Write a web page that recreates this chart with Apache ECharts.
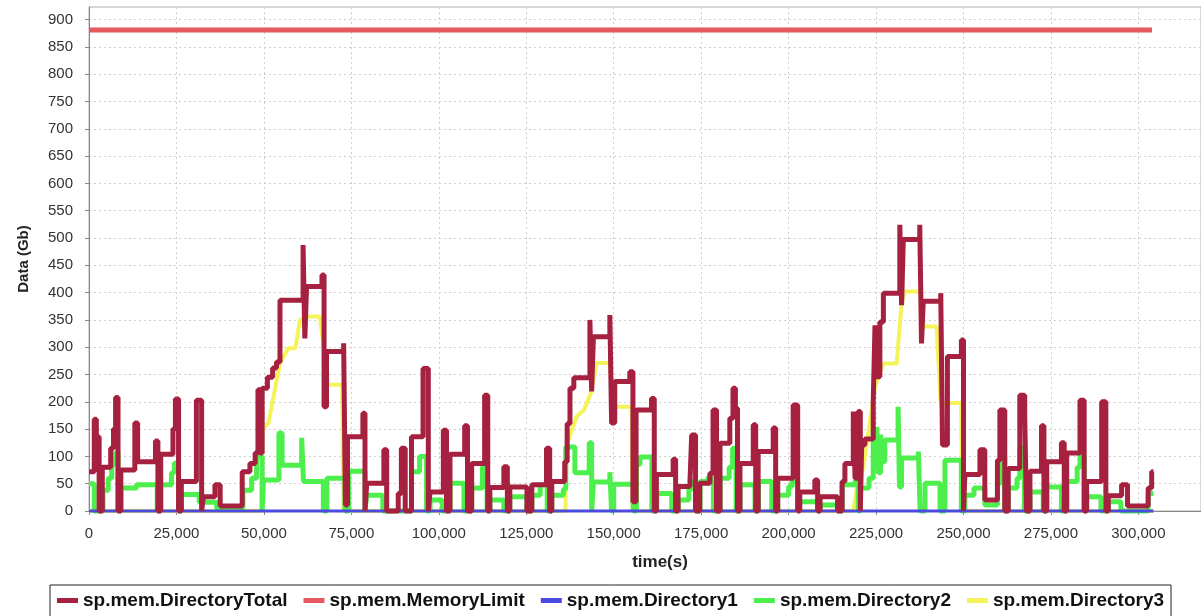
<!DOCTYPE html>
<html><head><meta charset="utf-8">
<script src="https://cdn.jsdelivr.net/npm/echarts@6/dist/echarts.min.js"></script>
<style>html,body{margin:0;padding:0;background:#fff}#c{width:1201px;height:616px}</style>
</head><body><div id="c"></div>
<script>
const seriesNames = ['sp.mem.DirectoryTotal','sp.mem.MemoryLimit','sp.mem.Directory1','sp.mem.Directory2','sp.mem.Directory3'];
const xTicks = [0,25000,50000,75000,100000,125000,150000,175000,200000,225000,250000,275000,300000];
const yTicks = [0,50,100,150,200,250,300,350,400,450,500,550,600,650,700,750,800,850,900];

// [time(s), Gb] — value holds until the next point (step)
const directoryTotal = [
 [0,72],[1500,168],[2100,136],[2900,0],[3800,80],[6200,115],[7000,150],[7600,208],[8300,0],[9100,75],
 [13100,161],[13900,90],[19000,128],[19700,0],[20500,104],[24000,150],[24700,205],[25600,0],[26400,54],
 [30700,203],[32200,0],[32700,26],[36000,48],[37500,9],[43800,72],[46000,87],[47500,106],[48300,222],
 [48900,106],[49500,225],[51000,245],[52500,262],[53600,273],[54600,386],[61200,487],[61700,316],[62200,411],
 [66600,432],[67200,191],[67900,292],[72800,307],[73300,11],[73900,136],[78300,179],[78900,0],[79400,51],
 [84300,112],[85100,0],[88400,32],[89300,115],[90400,0],[92200,136],[95500,261],[97000,0],[97500,35],
 [101300,148],[102200,0],[103200,104],[107400,156],[108200,0],[109400,87],[113100,212],[114000,0],[114600,43],
 [118600,81],[119600,0],[120300,44],[125200,0],[126600,48],[130800,115],[131700,0],[132300,54],[136000,90],
 [136700,160],[137500,225],[138600,244],[143200,350],[143700,219],[144200,319],[148900,359],[149400,161],
 [150300,237],[154600,255],[155500,17],[156400,185],[160800,206],[161600,0],[162200,67],[167000,95],[167700,0],
 [168400,45],[171800,54],[172300,139],[173400,0],[174600,51],[177500,69],[178400,185],[179400,0],[180400,124],
 [183200,170],[184100,225],[184800,188],[185400,0],[186100,87],[189900,158],[190600,0],[191300,109],[195600,152],
 [196300,0],[196900,60],[201300,194],[202600,0],[203200,35],[207500,57],[208300,0],[209000,26],[214000,0],
 [215300,54],[216100,87],[218500,182],[219000,60],[219900,182],[220500,0],[220900,121],[221800,132],[224200,200],
 [224700,340],[225200,246],[226100,346],[227100,399],[231800,524],[232300,377],[232800,497],[237500,524],
 [238000,307],[238500,384],[243500,399],[244000,121],[245400,283],[249400,313],[250000,0],[250400,67],
 [254700,112],[256100,20],[259700,93],[260400,185],[261800,0],[262800,78],[266100,212],[267500,176],[268000,0],
 [269000,73],[272300,156],[273000,0],[273800,90],[278000,125],[278800,0],[279500,106],[283300,203],[284500,0],
 [285200,54],[289500,200],[290700,0],[291400,28],[295200,48],[296900,9],[302800,42],[303800,72],[304300,72]
];
const memoryLimit = [[0,881],[303900,881]];
const directory1 = [[0,0],[304300,0]];
const directory2 = [
 [0,50],[1500,0],[4000,38],[5500,60],[6500,85],[7400,106],[8300,0],[9100,42],[13600,48],[19500,0],[20500,48],
 [23600,70],[24400,88],[25600,0],[26400,30],[31500,16],[36500,5],[44000,38],[46500,60],[47900,100],[49500,0],
 [49900,57],[54300,143],[55200,84],[60800,134],[61300,54],[67000,0],[68000,60],[73200,0],[74200,73],[78900,0],
 [79400,29],[84000,0],[92200,72],[94500,100],[96500,0],[97500,20],[101000,0],[103200,51],[107200,0],[109400,42],
 [112500,81],[113800,0],[114600,20],[118600,0],[120300,26],[125200,0],[126600,29],[129000,48],[131000,0],
 [132300,29],[135600,40],[136300,117],[138900,70],[143000,125],[143700,0],[144200,53],[148900,71],[149400,0],
 [150000,49],[155600,0],[156500,85],[157500,99],[160900,0],[162300,32],[166600,0],[168500,20],[171500,40],
 [172300,54],[173400,0],[174700,54],[177000,62],[178500,0],[180400,60],[183000,80],[184000,115],[185000,0],
 [186100,48],[190400,0],[191400,54],[195200,0],[196900,29],[200000,45],[201000,54],[202600,0],[202800,17],
 [208300,0],[209000,11],[214000,0],[215300,48],[219000,55],[219900,0],[220500,42],[223000,60],[224200,150],
 [224600,80],[225200,154],[225700,70],[226300,140],[226800,90],[227500,130],[231300,191],[231700,44],[232300,97],
 [237100,109],[237600,0],[239000,51],[243300,0],[244700,93],[249400,0],[250400,29],[253000,42],[255200,40],
 [256100,11],[259700,50],[260500,100],[261800,0],[262800,42],[265300,60],[266100,115],[267400,0],[269000,35],
 [272800,0],[273800,44],[278000,0],[279500,54],[282500,80],[283300,102],[284500,0],[285200,26],[289300,0],
 [291400,17],[295000,0],[302800,32],[304300,32]
];
const directory3 = [
 [0,0],[49300,0],[49600,150],[51300,161],[54600,271],[57000,298],[59000,298],[60300,350],[62700,356],[66000,356],
 [68400,231],[72400,231],[72700,0],[136200,0],[136500,120],[139400,173],[141500,185],[143500,216],[145100,271],
 [148900,271],[150200,191],[155200,191],[155400,0],[218500,0],[219500,40],[221400,81],[224700,228],[227100,270],
 [230900,270],[232300,380],[233300,402],[237600,402],[238500,338],[242300,338],[243500,198],[249300,198],
 [249600,0],[304300,0]
];

const colors = ['#a6213f','#e65a5f','#4a4ae0','#4def4d','#f4f45a'];
const chart = echarts.init(document.getElementById('c'), null, {renderer:'canvas'});
const fmt = v => Number(v).toLocaleString('en-US');
const lineSeries = (name, data, color, width, z, step) => ({
  name, type:'line', data, step: step ? 'end' : false, showSymbol:false, symbol:'none', clip:false, z,
  itemStyle:{color}, lineStyle:{color, width}, animation:false
});
chart.setOption({
  backgroundColor:'#fff',
  animation:false,
  grid:{left:89, right:0, top:7, bottom:105, show:true, borderColor:'#b0b0b0', borderWidth:1},
  xAxis:{
    type:'value', min:0, max:317900, interval:25000, offset:9,
    name:'time(s)', nameLocation:'middle', nameGap:34,
    nameTextStyle:{fontFamily:'Liberation Sans', fontWeight:'bold', fontSize:17, color:'#222', padding:[0,0,0,30]},
    axisLine:{show:true, lineStyle:{color:'#888', width:1}},
    axisTick:{show:true, length:4, lineStyle:{color:'#888'}, customValues:xTicks},
    axisLabel:{fontFamily:'Liberation Sans', fontSize:15, color:'#333', margin:6, formatter:fmt, customValues:xTicks},
    splitLine:{show:true, lineStyle:{color:'#cfcfcf', type:[2,3], width:1}}
  },
  yAxis:{
    type:'value', min:0, max:923, interval:50, offset:8,
    name:'Data (Gb)', nameLocation:'middle', nameGap:50, nameRotate:90,
    nameTextStyle:{fontFamily:'Liberation Sans', fontWeight:'bold', fontSize:15, color:'#222'},
    axisLine:{show:true, lineStyle:{color:'#888', width:1}},
    axisTick:{show:true, length:4, lineStyle:{color:'#888'}, customValues:yTicks},
    axisLabel:{fontFamily:'Liberation Sans', fontSize:15, color:'#333', margin:8, customValues:yTicks},
    splitLine:{show:true, lineStyle:{color:'#cfcfcf', type:[2,3], width:1}}
  },
  legend:{
    data:seriesNames, left:50, top:585, orient:'horizontal',
    icon:'rect', itemWidth:21, itemHeight:5, itemGap:16,
    borderColor:'#222', borderWidth:1, padding:[6,7,20,7],
    textStyle:{fontFamily:'Liberation Sans', fontWeight:'bold', fontSize:19, color:'#111'}
  },
  series:[
    lineSeries(seriesNames[0], directoryTotal, colors[0], 5, 5, true),
    lineSeries(seriesNames[1], memoryLimit, colors[1], 5, 6, false),
    lineSeries(seriesNames[2], directory1, colors[2], 3, 4, false),
    lineSeries(seriesNames[3], directory2, colors[3], 5, 3, true),
    lineSeries(seriesNames[4], directory3, colors[4], 4, 2, false)
  ]
});
</script></body></html>
